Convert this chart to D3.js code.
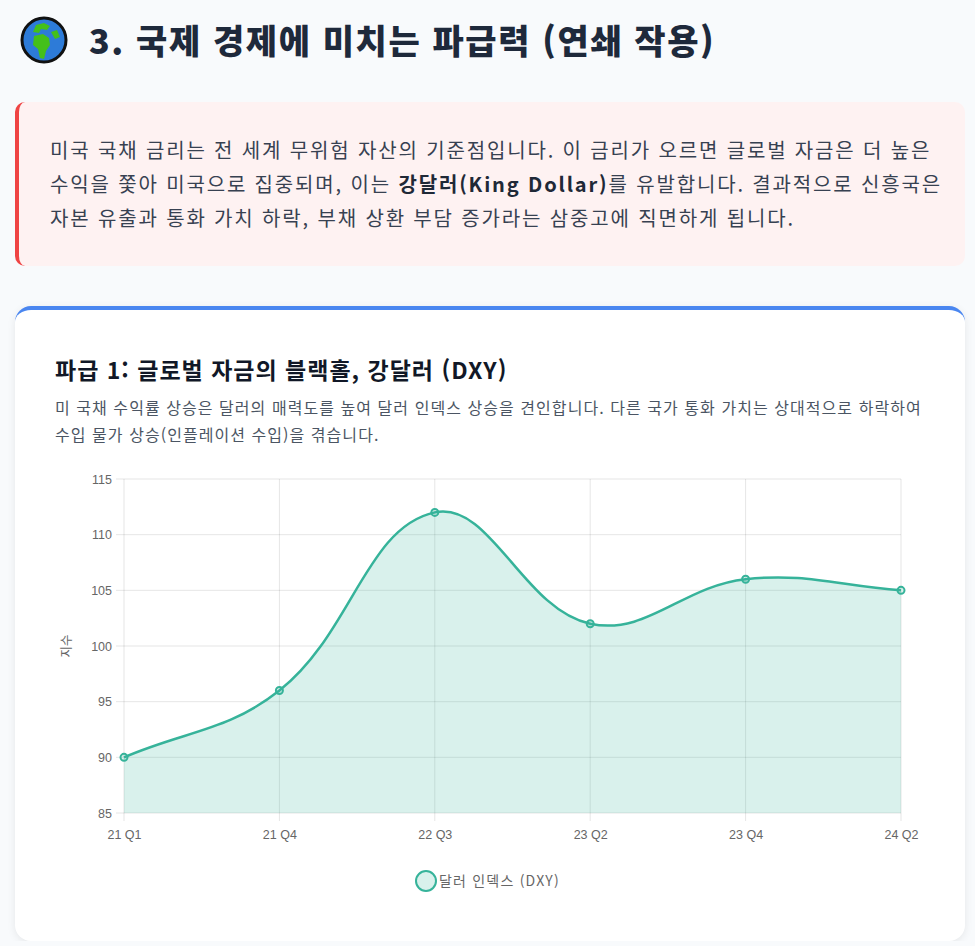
<!DOCTYPE html>
<html lang="ko">
<head>
<meta charset="utf-8">
<script src="https://cdn.jsdelivr.net/npm/d3@7"></script>
<style>
  html, body { margin: 0; padding: 0; }
  body {
    background: #f8fafc;
    font-family: "Noto Sans CJK KR", "Noto Sans", sans-serif;
    color: #1e293b;
    padding: 0 10px 0 15px;
    width: 950px;
  }
  h2 {
    margin: 16px 0 38px 0;
    height: 48px;
    line-height: 48px;
    font-size: 34px;
    letter-spacing: 1.6px;
    font-weight: 800;
    display: flex;
    align-items: center;
  }
  h2 .globe { width: 50px; height: 50px; margin: 0 20px 0 4px; }
  .callout {
    background: #fef2f2;
    border-left: 4px solid #ef4444;
    border-radius: 10px;
    padding: 31px 30px 31px 31px;
    font-size: 20px;
    letter-spacing: 1.85px;
    line-height: 34px;
    color: #374151;
    white-space: nowrap;
  }
  .callout b { color: #1f2937; }
  .card {
    margin-top: 40px;
    background: #fff;
    border-top: 4px solid #4a86f0;
    border-radius: 16px;
    box-shadow: 0 2px 8px rgba(0,0,0,0.08);
    padding: 43px 40px 40px 40px;
  }
  .card h3 {
    margin: 0;
    font-size: 23px;
    letter-spacing: 1px;
    line-height: 32px;
    font-weight: 700;
    color: #111827;
  }
  .card p {
    margin: 9px 0 16px 0;
    font-size: 16px;
    letter-spacing: 1.05px;
    line-height: 27px;
    color: #4b5563;
    white-space: nowrap;
  }
  .chart text { font-family: "Liberation Sans", Arial, sans-serif; }
</style>
</head>
<body>
<h2><svg class="globe" viewBox="0 0 50 50">
  <circle cx="25" cy="25" r="22" fill="#2d7bd8" stroke="#111" stroke-width="3"/>
  <path d="M17 10 L25 8 L31 11 L28 15 L22 14 L20 18 L14 17 Z" fill="#44c01a"/>
  <path d="M15 21 L24 19 L30 23 L31 30 L27 36 L25 44 L21 43 L19 34 L14 30 Z" fill="#44c01a"/>
  <path d="M32 17 L38 15 L41 22 L36 24 Z" fill="#44c01a"/>
</svg>3. 국제 경제에 미치는 파급력 (연쇄 작용)</h2>

<div class="callout">
  미국 국채 금리는 전 세계 무위험 자산의 기준점입니다. 이 금리가 오르면 글로벌 자금은 더 높은<br>
  수익을 쫓아 미국으로 집중되며, 이는 <b>강달러(King Dollar)</b>를 유발합니다. 결과적으로 신흥국은<br>
  자본 유출과 통화 가치 하락, 부채 상환 부담 증가라는 삼중고에 직면하게 됩니다.
</div>

<div class="card">
  <h3>파급 1: 글로벌 자금의 블랙홀, 강달러 (DXY)</h3>
  <p>미 국채 수익률 상승은 달러의 매력도를 높여 달러 인덱스 상승을 견인합니다. 다른 국가 통화 가치는 상대적으로 하락하여<br>
  수입 물가 상승(인플레이션 수입)을 겪습니다.</p>
  <svg class="chart" id="dxy"></svg>
</div>

<script>
var quarters = ["21 Q1", "21 Q4", "22 Q3", "23 Q2", "23 Q4", "24 Q2"];
var dxyValues = [90, 96, 112, 102, 106, 105];
var yTicks = [85, 90, 95, 100, 105, 110, 115];
var seriesName = "달러 인덱스 (DXY)";
var axisTitle = "지수";

var lineColor = "#36b39a",
    fillColor = "rgba(54,179,154,0.19)",
    gridColor = "rgba(0,0,0,0.1)",
    tickColor = "#666";

var margin = {top: 15, right: 24, bottom: 88, left: 69},
    width = 870 - margin.left - margin.right,
    height = 437 - margin.top - margin.bottom;

var svg = d3.select("#dxy")
    .attr("width", width + margin.left + margin.right)
    .attr("height", height + margin.top + margin.bottom)
    .style("display", "block");

var g = svg.append("g")
    .attr("transform", "translate(" + margin.left + "," + margin.top + ")");

var x = d3.scalePoint().domain(quarters).range([0, width]);
var y = d3.scaleLinear().domain([85, 115]).range([height, 0]);

// grid
g.append("g").selectAll("line").data(yTicks).enter().append("line")
    .attr("x1", -8).attr("x2", width)
    .attr("y1", function(d) { return y(d); }).attr("y2", function(d) { return y(d); })
    .attr("stroke", gridColor);
g.append("g").selectAll("line").data(quarters).enter().append("line")
    .attr("x1", function(d) { return x(d); }).attr("x2", function(d) { return x(d); })
    .attr("y1", 0).attr("y2", height + 8)
    .attr("stroke", gridColor);

// axes (labels only, chart.js style)
var yAxis = g.append("g")
    .call(d3.axisLeft(y).tickValues(yTicks).tickSize(0).tickPadding(12));
var xAxis = g.append("g")
    .attr("transform", "translate(0," + height + ")")
    .call(d3.axisBottom(x).tickSize(0).tickPadding(17));
[yAxis, xAxis].forEach(function(a) {
  a.select(".domain").remove();
  a.selectAll("text").attr("fill", tickColor).style("font-size", "12.5px");
});

g.append("text")
    .attr("transform", "translate(" + (-57) + "," + (height / 2) + ") rotate(-90)")
    .attr("text-anchor", "middle")
    .attr("dy", "0.35em")
    .attr("fill", tickColor)
    .style("font-size", "12.5px")
    .style("font-family", "'Noto Sans CJK KR', sans-serif")
    .text(axisTitle);

// chart.js style spline (tension 0.4)
function splinePath(pts, t, closeTo) {
  var cps = pts.map(function(pt, i) {
    var prev = pts[i - 1] || pt, next = pts[i + 1] || pt;
    var d01 = Math.hypot(pt[0] - prev[0], pt[1] - prev[1]);
    var d12 = Math.hypot(next[0] - pt[0], next[1] - pt[1]);
    var s01 = d01 / (d01 + d12) || 0, s12 = d12 / (d01 + d12) || 0;
    var fa = t * s01, fb = t * s12;
    return {
      prev: [pt[0] - fa * (next[0] - prev[0]), pt[1] - fa * (next[1] - prev[1])],
      next: [pt[0] + fb * (next[0] - prev[0]), pt[1] + fb * (next[1] - prev[1])]
    };
  });
  var p = d3.path();
  p.moveTo(pts[0][0], pts[0][1]);
  for (var i = 1; i < pts.length; i++) {
    p.bezierCurveTo(cps[i - 1].next[0], cps[i - 1].next[1],
                    cps[i].prev[0], cps[i].prev[1], pts[i][0], pts[i][1]);
  }
  if (closeTo !== undefined) {
    p.lineTo(pts[pts.length - 1][0], closeTo);
    p.lineTo(pts[0][0], closeTo);
    p.closePath();
  }
  return p.toString();
}

var pts = quarters.map(function(q, i) { return [x(q), y(dxyValues[i])]; });

g.append("path")
    .attr("d", splinePath(pts, 0.4, y(85)))
    .attr("fill", fillColor);

g.append("path")
    .attr("d", splinePath(pts, 0.4))
    .attr("fill", "none")
    .attr("stroke", lineColor)
    .attr("stroke-width", 2.5);

g.append("g").selectAll("circle").data(dxyValues).enter().append("circle")
    .attr("cx", function(d, i) { return x(quarters[i]); })
    .attr("cy", function(d) { return y(d); })
    .attr("r", 3.5)
    .attr("fill", fillColor)
    .attr("stroke", lineColor)
    .attr("stroke-width", 2);

// legend
var legend = svg.append("g")
    .attr("transform", "translate(" + (371) + "," + (417) + ")");
legend.append("circle")
    .attr("r", 10)
    .attr("fill", fillColor)
    .attr("stroke", lineColor)
    .attr("stroke-width", 2);
legend.append("text")
    .attr("x", 13)
    .attr("dy", "0.35em")
    .attr("fill", tickColor)
    .style("font-size", "14px")
    .style("letter-spacing", "1.2px")
    .style("font-family", "'Noto Sans CJK KR', sans-serif")
    .text(seriesName);
</script>
</body>
</html>
